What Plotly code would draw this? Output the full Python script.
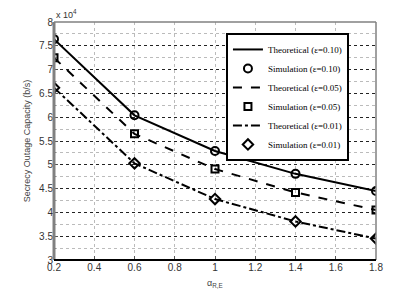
import plotly.graph_objects as go

alpha = [0.2, 0.6, 1.0, 1.4, 1.8]
theo_010 = [76400, 60400, 52900, 48100, 44500]
sim_010 = [76400, 60400, 52900, 48100, 44500]
theo_005 = [72500, 56500, 49100, 44200, 40500]
sim_005 = [72500, 56500, 49100, 44200, 40500]
theo_001 = [66200, 50300, 42800, 38100, 34500]
sim_001 = [66200, 50300, 42800, 38100, 34500]
names = ["Theoretical (\u03b5=0.10)", "Simulation (\u03b5=0.10)",
         "Theoretical (\u03b5=0.05)", "Simulation (\u03b5=0.05)",
         "Theoretical (\u03b5=0.01)", "Simulation (\u03b5=0.01)"]
x_ticks = [0.2, 0.4, 0.6, 0.8, 1.0, 1.2, 1.4, 1.6, 1.8]
x_ticktext = ["0.2", "0.4", "0.6", "0.8", "1", "1.2", "1.4", "1.6", "1.8"]
y_ticks = [30000, 35000, 40000, 45000, 50000, 55000, 60000, 65000, 70000, 75000, 80000]
y_ticktext = ["3", "3.5", "4", "4.5", "5", "5.5", "6", "6.5", "7", "7.5", "8"]

fig = go.Figure()
fig.add_trace(go.Scatter(x=alpha, y=theo_010, mode="lines", name=names[0],
                         line=dict(color="black", width=2, dash="solid")))
fig.add_trace(go.Scatter(x=alpha, y=sim_010, mode="markers", name=names[1],
                         marker=dict(symbol="circle-open", size=8, color="black", line=dict(width=2))))
fig.add_trace(go.Scatter(x=alpha, y=theo_005, mode="lines", name=names[2],
                         line=dict(color="black", width=2, dash="dash")))
fig.add_trace(go.Scatter(x=alpha, y=sim_005, mode="markers", name=names[3],
                         marker=dict(symbol="square-open", size=7, color="black", line=dict(width=2))))
fig.add_trace(go.Scatter(x=alpha, y=theo_001, mode="lines", name=names[4],
                         line=dict(color="black", width=2, dash="dashdot")))
fig.add_trace(go.Scatter(x=alpha, y=sim_001, mode="markers", name=names[5],
                         marker=dict(symbol="diamond-open", size=8, color="black", line=dict(width=2))))

tickfont = dict(family="Liberation Sans", size=10, color="#333333")

fig.update_layout(
    width=407, height=285,
    margin=dict(l=46, r=39, t=14, b=33, autoexpand=False),
    paper_bgcolor="white", plot_bgcolor="white",
    showlegend=True,
    legend=dict(x=0.534, y=0.954, xanchor="left", yanchor="top",
                bgcolor="white", bordercolor="black", borderwidth=2,
                font=dict(family="Liberation Serif", size=9, color="black"),
                tracegroupgap=0, itemwidth=30),
    xaxis=dict(range=[0.2, 1.8], tickmode="array", tickvals=x_ticks, ticktext=x_ticktext,
               showgrid=True, gridcolor="#bbbbbb", griddash="dot", gridwidth=1,
               ticks="inside", ticklen=4, tickcolor="#555555", automargin=False,
               tickfont=tickfont, zeroline=False, showline=False),
    yaxis=dict(range=[30000, 80000], tickmode="array", tickvals=y_ticks, ticktext=y_ticktext,
               showgrid=True, gridcolor="#222222", griddash="dot", gridwidth=1,
               ticks="inside", ticklen=4, tickcolor="#555555", automargin=False,
               tickfont=tickfont, zeroline=False, showline=False,
               minor=dict(tickmode="linear", tick0=30000, dtick=2500, showgrid=True,
                          gridcolor="#bbbbbb", griddash="dot", gridwidth=1,
                          ticks="inside", ticklen=2, tickcolor="#888888"),
               title=dict(text="Secrecy Outage Capacity (b/s)", standoff=6,
                          font=dict(family="Liberation Sans", size=9, color="#444444"))),
)

# frame
fig.add_shape(type="line", xref="paper", yref="paper", x0=0, x1=1, y0=1, y1=1,
              line=dict(color="#808080", width=1.5))
fig.add_shape(type="line", xref="paper", yref="paper", x0=1, x1=1, y0=0, y1=1,
              line=dict(color="#808080", width=1.5))
fig.add_shape(type="line", xref="paper", yref="paper", x0=0, x1=0, y0=0, y1=1,
              line=dict(color="#808080", width=3))
fig.add_shape(type="line", xref="paper", yref="paper", x0=0, x1=1, y0=0, y1=0,
              line=dict(color="black", width=2))

fig.add_annotation(xref="paper", yref="paper", x=0.0, y=1.0, xanchor="left", yanchor="bottom",
                   text="x 10<sup>4</sup>", showarrow=False, yshift=0,
                   font=dict(family="Liberation Sans", size=9, color="#333333"))
fig.add_annotation(xref="paper", yref="paper", x=0.5, y=0, xanchor="center", yanchor="top",
                   text="\u03b1<sub>R,E</sub>", showarrow=False, yshift=-16,
                   font=dict(family="Liberation Sans", size=9, color="#444444"))

fig.write_html("out.html")
